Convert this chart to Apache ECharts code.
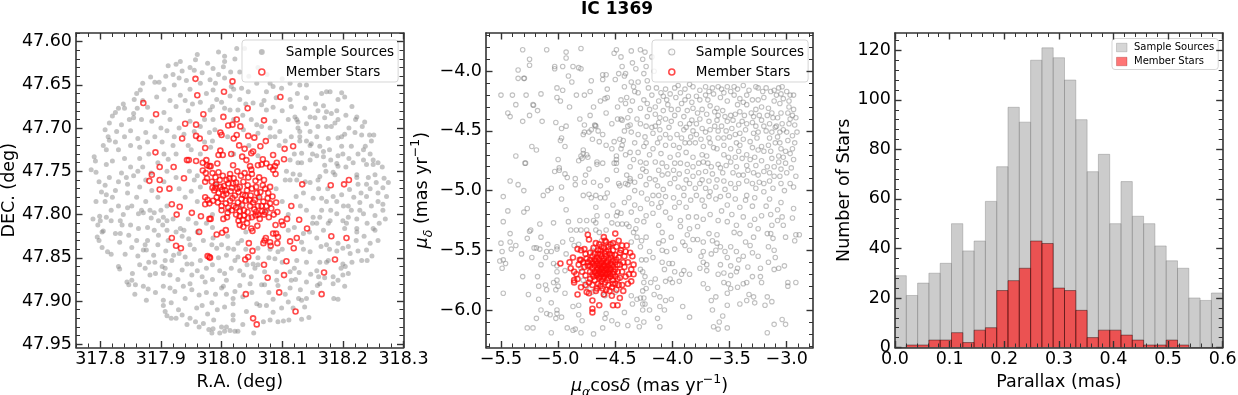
<!DOCTYPE html>
<html><head><meta charset="utf-8">
<style>html,body{margin:0;padding:0;background:#fff}#c{width:1238px;height:395px}</style>
<script src="https://cdn.jsdelivr.net/npm/echarts@6/dist/echarts.min.js"></script>
</head><body><div id="c"></div>
<script>
const sampleSky = [[317.96,47.615],[317.957,47.621],[317.932,47.623],[317.925,47.626],[317.912,47.628],[317.955,47.633],[317.968,47.636],[317.935,47.634],[317.92,47.638],[317.908,47.64],[317.93,47.642],[317.942,47.645],[317.89,47.647],[317.883,47.641],[317.897,47.647],[317.922,47.65],[317.905,47.655],[317.86,47.66],[317.87,47.648],[317.866,47.656],[317.856,47.667],[317.838,47.672],[317.87,47.668],[317.83,47.677],[317.84,47.677],[317.825,47.682],[317.82,47.686],[317.815,47.694],[317.808,47.702],[317.813,47.71],[317.815,47.714],[317.805,47.72],[317.81,47.725],[317.79,47.733],[317.792,47.738],[317.81,47.742],[317.785,47.748],[317.793,47.751],[317.798,47.762],[317.808,47.766],[317.793,47.785],[317.808,47.785],[317.81,47.777],[317.82,47.78],
[317.855,47.688],[317.855,47.683],[317.868,47.69],[317.885,47.692],[317.905,47.682],[317.925,47.675],[317.94,47.668],[317.952,47.672],[317.945,47.68],[317.915,47.69],[317.9,47.7],[317.875,47.705],[317.85,47.703],[317.84,47.71],[317.825,47.716],[317.83,47.725],[317.85,47.72],[317.865,47.722],[317.89,47.71],[317.91,47.703],[317.93,47.7],[317.948,47.692],[317.972,47.69],[317.965,47.698],[317.98,47.705],[317.945,47.72],[317.92,47.72],[317.905,47.73],[317.88,47.73],[317.865,47.735],[317.84,47.735],[317.82,47.738],[317.85,47.745],[317.87,47.745],[317.895,47.74],[317.925,47.73],[317.95,47.725],[317.965,47.73],[317.835,47.752],[317.855,47.755],[317.875,47.76],[317.91,47.75],[317.925,47.757],[317.947,47.75],[317.955,47.76],[317.96,47.755],[317.83,47.762],[317.845,47.765],[317.865,47.768],[317.885,47.772],[317.905,47.762],[317.93,47.77],[317.95,47.773],[317.965,47.768],[317.825,47.772],[317.845,47.775],[317.86,47.78],[317.875,47.785],[317.895,47.78],[317.91,47.79],[317.94,47.78],[317.96,47.785],[317.83,47.79],[317.845,47.792],
[317.788,47.805],[317.799,47.802],[317.81,47.803],[317.8,47.807],[317.796,47.812],[317.805,47.819],[317.803,47.82],[317.795,47.826],[317.798,47.83],[317.803,47.838],[317.812,47.843],[317.818,47.846],[317.83,47.86],[317.832,47.863],[317.818,47.807],[317.833,47.807],[317.836,47.812],[317.825,47.822],[317.833,47.822],[317.847,47.824],[317.832,47.832],[317.841,47.846],[317.86,47.83],[317.878,47.83],[317.874,47.835],[317.871,47.841],[317.865,47.858],[317.874,47.862],[317.853,47.868],[317.844,47.878],[317.847,47.881],[317.858,47.881],[317.852,47.876],[317.857,47.892],[317.871,47.883],[317.876,47.899],[317.879,47.886],[317.891,47.89],[317.891,47.868],[317.902,47.86],[317.907,47.862],[317.904,47.868],[317.888,47.847],[317.89,47.855],[317.876,47.841],[317.863,47.799],[317.871,47.798],[317.889,47.798],[317.884,47.804],[317.896,47.807],[317.904,47.803],[317.91,47.807],[317.889,47.818],[317.896,47.824],[317.903,47.812],[317.91,47.818],[317.932,47.816],[317.938,47.818],[317.946,47.828],[317.948,47.835],[317.94,47.849],[317.943,47.857],[317.935,47.864],[317.921,47.847],[317.918,47.853],[317.907,47.853],[317.951,47.87],[317.965,47.853],[317.968,47.872],[317.973,47.878],[317.904,47.883],[317.915,47.885],[317.923,47.889],[317.937,47.883],[317.948,47.88],[317.951,47.887],[317.963,47.893],[317.94,47.897],[317.904,47.899],[317.904,47.905],[317.917,47.902],[317.907,47.912],[317.929,47.91],[317.91,47.917],[317.917,47.92],[317.925,47.92],[317.935,47.916],[317.943,47.927],[317.948,47.92],[317.957,47.924],[317.963,47.93],[317.97,47.926],[317.979,47.933],[317.968,47.905],[317.977,47.915],[317.959,47.908],[317.951,47.857],
[317.984,47.937],[317.986,47.932],[317.997,47.937],[318.005,47.935],[318.014,47.934],[318.022,47.935],[318.027,47.935],[318.053,47.937],[318.0,47.93],[318.008,47.93],[318.035,47.927],[318.019,47.922],[317.987,47.922],[318.069,47.924],[318.08,47.922],[318.093,47.924],[318.111,47.922],[318.132,47.921],[318.144,47.919],[318.102,47.923],[318.074,47.905],[318.085,47.913],[318.099,47.908],[318.11,47.901],[318.118,47.908],[318.137,47.907],[318.132,47.899],[317.984,47.902],[317.993,47.91],[318.005,47.907],[318.019,47.916],[318.019,47.903],[318.041,47.912],[318.058,47.903],[318.063,47.905],[318.047,47.88],[318.066,47.881],[318.071,47.881],[318.091,47.876],[318.093,47.882],[318.113,47.885],[318.115,47.876],[318.13,47.887],[318.127,47.897],[318.14,47.897],[318.003,47.883],[318.0,47.885],[318.022,47.889],[318.019,47.897],[318.03,47.882],[318.005,47.868],[318.008,47.876],[317.997,47.865],[318.036,47.87],[318.049,47.872],[318.055,47.862],[318.06,47.858],[318.071,47.866],[318.091,47.866],[318.113,47.866],[318.128,47.867],[318.147,47.869],[318.157,47.865],[318.16,47.872],[318.158,47.882],[318.162,47.88],[318.184,47.872],[318.192,47.876],[318.184,47.88],[318.2,47.87],[318.209,47.868],[318.203,47.883],[318.185,47.897],[318.192,47.898],[318.162,47.855],[318.173,47.855],[318.176,47.853],[318.2,47.857],[318.204,47.86],[318.197,47.862],[318.231,47.853],[318.239,47.841],[318.248,47.848],[318.24,47.853],[318.146,47.843],[318.164,47.837],[318.173,47.835],[318.192,47.833],[318.2,47.839],[318.209,47.837],[318.212,47.845],[318.14,47.855],[318.124,47.853],[318.022,47.853],[318.027,47.849],[318.052,47.857],[318.008,47.847],[318.011,47.839],[317.992,47.839],[318.027,47.833],[317.986,47.827],[317.984,47.835],[318.033,47.83],[318.06,47.839],[318.088,47.851],[318.093,47.843],[318.135,47.822],[318.132,47.832],[318.157,47.827],[318.168,47.818],[318.157,47.81],[318.179,47.807],[318.176,47.81],[318.162,47.803],[318.151,47.803],[318.19,47.799],[318.2,47.807],[318.209,47.803],[318.223,47.805],[318.228,47.795],[318.234,47.799],[318.253,47.801],[318.266,47.795],[318.25,47.816],[318.253,47.818],[318.223,47.816],[318.223,47.82],[318.203,47.816],[318.206,47.81],
[318.165,47.66],[318.173,47.658],[318.179,47.658],[318.198,47.659],[318.203,47.664],[318.192,47.667],[318.168,47.674],[318.159,47.68],[318.173,47.681],[318.181,47.683],[318.146,47.687],[318.154,47.688],[318.121,47.687],[318.124,47.69],[318.126,47.693],[318.192,47.69],[318.187,47.694],[318.181,47.698],[318.173,47.698],[318.159,47.698],[318.146,47.704],[318.129,47.704],[318.126,47.7],[318.223,47.687],[318.221,47.69],[318.236,47.693],[318.232,47.698],[318.198,47.71],[318.203,47.707],[318.192,47.711],[318.176,47.712],[318.157,47.71],[318.129,47.71],[318.129,47.715],[318.146,47.72],[318.148,47.718],[318.162,47.721],[318.214,47.721],[318.198,47.721],[318.231,47.708],[318.244,47.708],[318.251,47.708],[318.247,47.715],[318.237,47.721],[318.234,47.725],[318.192,47.732],[318.168,47.727],[318.168,47.733],[318.157,47.732],[318.132,47.729],[318.217,47.74],[318.234,47.737],[318.239,47.742],[318.25,47.737],[318.25,47.742],[318.258,47.74],[318.19,47.741],[318.192,47.744],[318.17,47.743],[318.184,47.751],[318.187,47.754],[318.162,47.756],[318.159,47.76],[318.223,47.754],[318.223,47.757],[318.253,47.754],[318.242,47.757],[318.258,47.775],[318.275,47.763],[318.266,47.769],[318.255,47.763],[318.239,47.765],[318.225,47.765],[318.211,47.771],[318.198,47.777],[318.184,47.779],[318.165,47.781],[318.173,47.785],[318.151,47.781],[318.135,47.775],[318.123,47.779],[318.113,47.76],[318.124,47.76],[318.105,47.76],[318.129,47.754],[318.228,47.786],[318.209,47.79],[318.201,47.79],[318.19,47.785],[318.239,47.779],[318.272,47.779],[318.258,47.785],[318.266,47.788],[318.247,47.79],[318.146,47.763],
[317.995,47.612],[318.005,47.617],[318.005,47.623],[318.025,47.608],[318.038,47.608],[318.066,47.612],[318.022,47.62],[317.986,47.631],[318.003,47.629],[317.995,47.638],[317.981,47.644],[318.005,47.642],[318.016,47.652],[317.986,47.656],[318.033,47.654],[318.044,47.658],[318.058,47.648],[318.074,47.658],[318.085,47.652],[318.099,47.654],[318.113,47.648],[318.129,47.65],[318.14,47.65],[317.992,47.667],[318.014,47.663],[318.03,47.667],[318.052,47.671],[318.066,47.673],[318.074,47.679],[318.049,47.69],[318.085,47.676],[318.113,47.667],[318.115,47.675],[318.137,47.677],[318.11,47.69],[318.088,47.692],[318.096,47.704],[318.088,47.71],[317.986,47.69],[317.989,47.702],[318.036,47.702],[318.058,47.696],[318.066,47.698],[318.005,47.677],[318.014,47.679],[317.981,47.679],[318.027,47.679],[318.113,47.737],[318.126,47.74],[318.107,47.75],[318.118,47.753],[318.132,47.74],[318.146,47.737],
[317.99,47.765],[318.03,47.79],[318.06,47.78],[318.012,47.795],[317.985,47.8],[318.09,47.77],[318.075,47.795],[318.1,47.785],[318.11,47.8],[318.12,47.815],[317.975,47.81],[317.96,47.82],[318.0,47.835],[318.04,47.82],[318.08,47.84],
[317.948,47.63],[317.977,47.625],[317.965,47.648],[317.948,47.655],[317.932,47.662],[317.915,47.668],[317.893,47.664],[317.878,47.676],[317.861,47.677],[317.848,47.69],[317.835,47.696],[317.827,47.704],[317.862,47.712],[317.878,47.716],[317.902,47.716],[317.922,47.71],[317.938,47.707],[317.955,47.704],[317.972,47.716],[317.982,47.722],[317.912,47.736],[317.884,47.752],[317.862,47.75],[317.843,47.757],[317.815,47.757],[317.802,47.774],[317.818,47.795],[317.838,47.8],[317.852,47.79],[317.868,47.795],[317.882,47.795],[317.9,47.795],[317.92,47.805],[317.945,47.805],[317.958,47.81],[317.85,47.812],[317.863,47.816],[317.878,47.815],[317.852,47.838],[317.862,47.848],[317.88,47.855],[317.895,47.835],[317.912,47.83],[317.925,47.82],[317.935,47.825],[317.955,47.84],[317.97,47.83],[317.93,47.845],[317.908,47.842],[317.882,47.87],[317.915,47.87],[317.928,47.875],[317.96,47.865],[317.985,47.858],[317.975,47.862],[317.995,47.85],[318.016,47.862],[318.03,47.865],[318.042,47.858],[317.985,47.875],[317.975,47.89],[317.99,47.892],[318.008,47.892],[318.035,47.895],[318.05,47.89],[318.078,47.89],[318.085,47.898],[318.105,47.892],[318.122,47.875],[318.14,47.878],[318.15,47.89],[318.17,47.873],[318.178,47.84],[318.19,47.842],[318.215,47.855],[318.225,47.842],[318.222,47.83],[318.235,47.825],[318.245,47.833],[318.258,47.83],[318.24,47.81],[318.27,47.805],[318.26,47.81],[318.214,47.795],[318.18,47.795],[318.165,47.795],[318.14,47.795],[318.13,47.79],[318.15,47.81],[318.145,47.82],[318.11,47.818],[318.1,47.84],[318.135,47.84],[318.12,47.862],[318.1,47.855],[318.078,47.85],[318.04,47.84],[318.02,47.84],[318.01,47.825],[317.985,47.815],[318.06,47.85],[318.23,47.775],[318.245,47.77],[318.218,47.78],[318.175,47.77],[318.16,47.77],[318.138,47.762],[318.172,47.75],[318.205,47.745],[318.21,47.735],[318.225,47.73],[318.245,47.73],[318.265,47.745],[318.268,47.758],[318.2,47.73],[318.178,47.725],[318.18,47.737],[318.15,47.73],[318.14,47.715],[318.115,47.71],[318.105,47.715],[318.095,47.72],[318.12,47.73],[318.22,47.705],[318.21,47.7],[318.205,47.685],[318.215,47.675],[318.19,47.68],[318.17,47.688],[318.14,47.695],[318.155,47.672],[318.14,47.665],[318.125,47.66],[318.1,47.68],[318.09,47.665],[318.07,47.668],[318.04,47.672],[318.02,47.655],[318.045,47.64],[318.06,47.63],[318.075,47.638],[318.03,47.635],[318.015,47.635],[318.08,47.648],[318.1,47.643],[317.99,47.648],[317.975,47.66],[317.965,47.67],[317.985,47.675],[318.0,47.67],[318.02,47.69],[318.035,47.685],[318.08,47.7],[318.06,47.706],[318.08,47.71],[318.01,47.71],[318.045,47.72],[317.985,47.715],[318.02,47.73],[318.06,47.732]];
const memberSky = [[317.957,47.643],[317.96,47.662],[317.871,47.671],[317.892,47.684],[317.97,47.684],[317.94,47.695],[317.958,47.696],[317.935,47.712],[317.958,47.709],[317.964,47.712],[317.973,47.723],[317.891,47.728],[317.943,47.737],[317.946,47.737],[317.958,47.738],[317.975,47.737],[317.969,47.74],[317.898,47.745],[317.921,47.745],[317.976,47.743],[317.98,47.744],[317.969,47.749],[317.974,47.752],[317.885,47.754],[317.881,47.761],[317.898,47.76],[317.938,47.758],[317.976,47.758],[317.973,47.762],[317.898,47.771],[317.914,47.77],[317.973,47.78],[317.977,47.783],[317.918,47.788],[317.931,47.791],[317.973,47.788],[317.98,47.787],
[318.018,47.646],[318.004,47.658],[318.097,47.664],[318.043,47.677],[318.003,47.687],[318.07,47.691],[318.025,47.69],[318.018,47.696],[318.011,47.697],[318.031,47.698],[317.998,47.705],[318.0,47.708],[318.025,47.708],[318.02,47.712],[318.044,47.709],[318.054,47.711],[318.073,47.715],[318.064,47.721],[318.029,47.72],[318.038,47.724],[318.052,47.727],[318.049,47.729],[318.104,47.724],[318.118,47.721],[317.998,47.726],[317.995,47.731],[318.002,47.731],[318.016,47.73],[318.034,47.733],[318.041,47.737],[318.068,47.736],[318.085,47.731],[318.103,47.736],[318.074,47.741],[318.08,47.745],[318.091,47.74],[318.088,47.744],[318.066,47.742],[318.06,47.743],[318.047,47.744],[317.993,47.741],[318.019,47.743],[317.982,47.744],[318.049,47.748],[318.085,47.748],[318.089,47.753],[318.133,47.765],[318.18,47.766],[318.202,47.765],[318.21,47.76],[318.115,47.79],
[318.128,47.806],[318.108,47.805],[318.099,47.808],[318.101,47.812],[318.089,47.812],[318.059,47.813],[318.049,47.816],[318.051,47.819],[318.141,47.816],[318.085,47.822],[318.09,47.822],[318.093,47.826],[318.073,47.827],[318.071,47.83],[318.08,47.832],[318.069,47.833],[318.081,47.836],[318.045,47.833],[318.092,47.833],[318.113,47.831],[318.124,47.827],[318.119,47.839],[318.181,47.825],[318.206,47.827],[318.051,47.842],[318.044,47.849],[318.039,47.852],[318.107,47.854],[318.187,47.852],[318.07,47.858],[318.169,47.867],[318.103,47.87],[318.076,47.873],[318.04,47.892],[318.095,47.89],[318.165,47.892],[318.122,47.912],[318.052,47.92],[318.058,47.927],[318.003,47.805],[318.009,47.803],[317.992,47.823],[318.001,47.821],[318.007,47.818],[317.981,47.85],[317.982,47.805],[317.926,47.8],[317.951,47.798],[317.966,47.802],[317.98,47.805],[317.963,47.82],[317.918,47.827],[317.925,47.836],[317.933,47.839],[317.977,47.848],[317.98,47.849],
[317.985,47.752],[317.99,47.757],[317.995,47.751],[318.002,47.755],[318.008,47.76],[318.014,47.753],[318.02,47.758],[318.026,47.75],[318.032,47.755],[318.038,47.752],[318.044,47.757],[318.05,47.753],[318.056,47.761],[318.062,47.757],[318.07,47.76],[317.984,47.762],[317.991,47.765],[317.997,47.76],[318.004,47.767],[318.011,47.764],[318.017,47.769],[318.024,47.763],[318.03,47.768],[318.036,47.762],[318.043,47.766],[318.05,47.77],[318.057,47.768],[318.064,47.774],[318.072,47.77],[318.08,47.768],[317.988,47.772],[317.995,47.775],[318.001,47.771],[318.008,47.776],[318.015,47.773],[318.022,47.778],[318.028,47.774],[318.035,47.777],[318.042,47.772],[318.048,47.778],[318.055,47.783],[318.062,47.78],[318.069,47.785],[318.076,47.781],[318.084,47.779],[318.09,47.786],[317.986,47.784],[317.994,47.786],[318.0,47.782],[318.007,47.787],[318.014,47.784],[318.02,47.79],[318.027,47.786],[318.034,47.789],[318.04,47.784],[318.047,47.79],[318.054,47.794],[318.06,47.79],[318.067,47.796],[318.074,47.79],[318.082,47.793],[318.092,47.797],[318.0,47.795],[318.01,47.798],[318.017,47.795],[318.024,47.8],[318.03,47.796],[318.037,47.801],[318.043,47.797],[318.05,47.803],[318.056,47.801],[318.063,47.805],[318.07,47.8],[318.078,47.803],[318.028,47.807],[318.035,47.806],[318.042,47.81],[318.03,47.812],[318.036,47.814],
[317.99,47.769],[317.998,47.768],[318.006,47.772],[318.013,47.758],[318.019,47.764],[318.026,47.77],[318.033,47.782],[318.039,47.778],[318.046,47.783],[318.052,47.786],[318.058,47.775],[318.066,47.79],[318.072,47.797],[317.992,47.78],[318.003,47.778],[318.011,47.792],[318.018,47.781],[318.024,47.792],[318.03,47.802],[318.044,47.804],[318.057,47.797],[318.06,47.8],[318.08,47.787],[318.086,47.8],[318.037,47.795],[317.985,47.769],[318.0,47.79],[318.077,47.775],[318.068,47.766]];
const samplePM = [[-5.31,-3.82],[-5.1,-3.82],[-4.93,-3.84],[-4.8,-3.81],[-5.25,-3.9],[-5.25,-3.95],[-4.93,-3.89],[-5.35,-3.99],[-5.35,-4.06],[-5.3,-4.06],[-5.295,-4.06],[-5.03,-3.96],[-5.03,-3.98],[-4.96,-3.96],[-4.87,-3.96],[-4.82,-3.97],[-4.8,-3.98],[-4.91,-4.04],[-4.88,-4.09],[-4.71,-4.08],[-4.61,-4.03],[-4.58,-4.03],[-4.61,-4.07],[-4.49,-3.82],[-4.51,-3.85],[-4.45,-3.88],[-4.44,-3.96],[-4.47,-4.02],[-4.41,-4.02],[-4.42,-4.04],[-4.5,-4.07],
[-5.5,-4.2],[-5.4,-4.2],[-5.28,-4.2],[-5.15,-4.19],[-5.01,-4.14],[-4.96,-4.16],[-5.01,-4.22],[-4.98,-4.25],[-4.84,-4.2],[-4.77,-4.2],[-4.72,-4.17],[-4.57,-4.15],[-5.37,-4.28],[-5.22,-4.28],[-5.215,-4.285],[-4.9,-4.3],[-4.69,-4.3],[-4.63,-4.25],[-4.59,-4.23],[-4.57,-4.22],[-4.45,-4.24],[-4.4,-4.22],[-4.41,-4.27],[-5.44,-4.35],[-5.42,-4.38],[-5.25,-4.37],[-5.18,-4.33],[-4.58,-4.35],[-4.72,-4.37],[-5.31,-4.42],[-5.14,-4.42],[-5.02,-4.43],[-4.81,-4.4],[-4.77,-4.45],[-4.93,-4.46],[-4.97,-4.48],[-4.48,-4.4],[-4.45,-4.4],[-4.44,-4.41],[-4.39,-4.39],[-4.53,-4.44],[-4.39,-4.46],[-4.68,-4.45],[-4.675,-4.455],[-4.67,-4.46],[-4.71,-4.49],[-4.73,-4.51],[-4.65,-4.5],[-4.61,-4.53],[-4.77,-4.51],[-4.78,-4.53],[-4.7,-4.57],[-4.64,-4.59],[-4.58,-4.62],[-4.51,-4.59],[-4.46,-4.57],[-4.43,-4.58],[-4.45,-4.65],[-4.53,-4.65],[-4.44,-4.62],[-4.97,-4.56],[-4.98,-4.58],[-4.94,-4.63],[-5.23,-4.63],[-5.19,-4.66],[-4.78,-4.66],[-4.78,-4.69],[-4.8,-4.71],[-4.75,-4.7],[-4.79,-4.73],[-4.74,-4.72],[-5.37,-4.71],[-5.0,-4.74],[-4.82,-4.75],[-5.29,-4.77],[-5.285,-4.77],[-4.66,-4.76],[-4.66,-4.78],[-4.61,-4.77],[-4.51,-4.77],[-4.49,-4.71],[-4.49,-4.74],[-4.49,-4.77],[-4.99,-4.81],[-4.99,-4.83],[-5.03,-4.84],[-4.94,-4.86],[-4.92,-4.89],[-4.73,-4.82],[-4.76,-4.87],[-4.49,-4.83],[-4.4,-4.87],[-4.37,-4.8],[-4.85,-4.9],[-5.42,-4.92],[-5.35,-4.95],[-5.3,-5.0],[-5.06,-4.98],[-5.09,-5.0],[-4.97,-4.97],[-4.85,-4.95],[-4.77,-4.93],[-4.69,-4.93],[-4.63,-4.96],[-4.57,-4.91],[-4.47,-4.94],[-4.46,-4.96],[-4.41,-4.94],[-4.37,-4.92],[-5.48,-5.05],[-5.13,-5.04],[-4.97,-5.07],[-4.78,-5.04],[-4.73,-5.03],[-4.71,-5.06],[-4.67,-5.04],[-4.63,-5.06],[-4.59,-5.06],[-4.57,-5.02],
[-4.36,-3.83],[-4.28,-3.82],[-4.24,-3.84],[-4.02,-3.84],[-4.32,-3.98],[-4.23,-3.96],[-4.25,-4.02],[-4.16,-4.0],[-4.36,-4.09],[-4.34,-4.13],[-4.3,-4.09],[-4.33,-4.17],[-4.21,-4.14],[-4.14,-4.14],[-4.06,-4.15],[-3.98,-4.14],[-3.89,-4.15],[-3.82,-4.13],[-3.71,-4.13],[-3.65,-4.14],[-3.6,-4.13],[-3.52,-4.13],[-3.46,-4.13],[-3.38,-4.12],[-3.27,-4.13],[-3.25,-4.14],[-3.11,-4.16],[-3.07,-4.14],[-3.04,-4.13],[-3.0,-4.17],[-2.94,-4.2],[-2.97,-4.2],
[-4.25,-4.24],[-4.22,-4.27],[-4.08,-4.21],[-4.05,-4.24],[-3.93,-4.18],[-3.86,-4.21],[-3.79,-4.21],[-3.71,-4.2],[-3.64,-4.19],[-3.55,-4.18],[-3.46,-4.2],[-3.41,-4.23],[-3.35,-4.2],[-3.25,-4.24],[-3.14,-4.17],[-3.03,-4.23],[-4.01,-4.32],[-4.04,-4.28],[-4.12,-4.25],[-4.28,-4.31],[-4.2,-4.32],[-3.92,-4.27],[-3.82,-4.31],[-3.74,-4.32],[-3.67,-4.29],[-3.61,-4.31],[-3.6,-4.37],[-3.54,-4.38],[-3.49,-4.37],[-3.41,-4.34],[-3.35,-4.28],[-3.27,-4.32],[-3.22,-4.3],[-3.16,-4.31],[-3.13,-4.35],[-3.17,-4.37],[-2.94,-4.32],[-2.95,-4.37],[-2.92,-4.39],[-3.08,-4.39],[-3.29,-4.38],
[-4.11,-4.39],[-4.06,-4.4],[-4.01,-4.42],[-4.15,-4.46],[-4.23,-4.46],[-4.18,-4.47],[-4.31,-4.4],[-4.37,-4.45],[-3.93,-4.44],[-3.85,-4.44],[-3.79,-4.44],[-3.74,-4.48],[-3.63,-4.46],[-3.57,-4.46],[-3.71,-4.51],[-3.9,-4.49],[-3.96,-4.53],[-4.06,-4.53],[-4.11,-4.49],[-3.39,-4.42],[-3.35,-4.44],[-3.27,-4.46],[-3.25,-4.51],[-3.2,-4.46],[-3.04,-4.44],[-2.98,-4.44],[-2.91,-4.51],[-3.0,-4.51],[-3.06,-4.51],[-3.13,-4.51],[-3.41,-4.52],[-3.45,-4.53],[-3.6,-4.56],[-3.79,-4.53],[-3.85,-4.6],[-4.17,-4.52],[-4.36,-4.51],[-4.23,-4.6],[-4.25,-4.63],[-4.17,-4.65],[-4.06,-4.62],[-3.95,-4.7],[-3.89,-4.6],
[-3.64,-4.64],[-3.61,-4.65],[-3.49,-4.65],[-3.41,-4.62],[-3.35,-4.7],[-3.25,-4.66],[-3.22,-4.63],[-3.16,-4.62],[-3.1,-4.6],[-3.06,-4.6],[-3.14,-4.67],[-3.01,-4.67],[-3.03,-4.72],[-3.07,-4.76],[-3.01,-4.77],[-2.97,-4.69],[-3.74,-4.7],[-3.77,-4.77],[-3.73,-4.76],[-3.66,-4.8],[-3.6,-4.78],[-3.58,-4.81],[-3.49,-4.76],[-3.45,-4.72],[-3.39,-4.73],[-3.32,-4.74],[-3.17,-4.8],[-3.11,-4.8],[-4.09,-4.77],[-4.05,-4.8],[-4.28,-4.76],[-4.23,-4.77],[-4.23,-4.84],[-3.99,-4.83],[-3.93,-4.77],[-4.09,-4.87],[-4.15,-4.91],[-4.28,-4.88],[-4.37,-4.9],[-3.82,-4.88],[-3.77,-4.85],[-3.74,-4.91],[-3.61,-4.91],[-3.49,-4.94],[-3.42,-4.87],[-3.38,-4.87],[-3.29,-4.85],[-3.25,-4.87],[-3.3,-4.94],[-3.2,-4.94],[-3.11,-4.88],[-3.0,-4.85],[-2.92,-4.88],[-2.97,-4.94],[-2.94,-4.97],[-4.02,-4.94],[-4.08,-4.99],[-3.9,-4.98],[-3.85,-4.94],[-3.76,-4.94],[-3.67,-5.01],[-3.58,-5.05],[-3.51,-5.04],[-3.35,-5.04],[-3.36,-5.08],[-3.2,-5.01],[-3.68,-5.05],[-3.79,-5.04],[-3.9,-5.04],[-3.99,-5.06],[-4.12,-5.04],[-4.17,-5.04],[-4.27,-5.02],[-4.33,-5.0],[-4.23,-4.95],
[-4.18,-5.11],[-4.12,-5.14],[-4.06,-5.18],[-4.17,-5.19],[-4.23,-5.21],[-4.02,-5.23],[-3.93,-5.25],[-4.12,-5.29],[-4.25,-5.26],[-4.31,-5.25],[-4.09,-5.35],[-3.93,-5.3],[-3.85,-5.32],[-3.78,-5.3],[-3.79,-5.22],[-3.67,-5.2],[-3.57,-5.17],[-3.52,-5.26],[-3.44,-5.29],[-3.32,-5.29],[-3.22,-5.21],[-3.08,-5.25],[-3.04,-5.22],[-3.13,-5.29],[-3.03,-5.29],[-2.95,-5.23],[-2.94,-5.15],[-3.46,-5.35],[-3.41,-5.36],[-3.68,-5.36],[-3.61,-5.37],[-3.87,-5.37],[-3.82,-5.41],[-3.78,-5.41],[-3.73,-5.43],[-3.65,-5.42],[-3.61,-5.44],[-3.25,-5.32],[-3.17,-5.36],[-3.14,-5.36],[-3.12,-5.4],[-3.01,-5.39],[-2.92,-5.37],[-2.89,-5.37],[-2.93,-5.42],[-3.36,-5.43],[-3.32,-5.46],[-3.29,-5.39],[-3.16,-5.47],[-3.11,-5.5],[-3.54,-5.51],[-3.49,-5.47],[-3.44,-5.51],[-3.38,-5.55],[-3.42,-5.58],[-3.73,-5.51],[-3.66,-5.53],[-3.75,-5.55],[-3.73,-5.6],[-3.7,-5.62],[-3.76,-5.65],[-3.7,-5.67],[-3.58,-5.62],[-3.49,-5.63],[-3.43,-5.65],[-3.44,-5.68],[-3.34,-5.64],[-3.23,-5.65],[-3.16,-5.6],[-3.11,-5.66],[-3.07,-5.65],[-3.1,-5.56],[-3.02,-5.63],[-3.55,-5.69],[-3.49,-5.71],[-3.23,-5.72],[-3.22,-5.77],[-3.35,-5.77],[-3.38,-5.78],[-3.55,-5.77],[-3.51,-5.78],[-3.49,-5.82],[-3.52,-5.86],[-3.43,-5.81],[-3.73,-5.78],[-3.69,-5.82],[-2.99,-5.77],[-2.99,-5.8],[-2.92,-5.77],[-3.62,-5.89],[-3.66,-5.92],[-3.52,-5.96],[-3.41,-5.95],[-3.35,-5.92],[-3.33,-5.87],[-3.29,-5.89],[-3.28,-5.94],[-3.17,-5.89],[-3.19,-5.96],[-3.13,-5.93],[-3.65,-6.0],[-3.56,-6.05],[-3.59,-6.1],[-3.64,-6.14],[-3.6,-6.16],[-3.52,-6.15],[-3.04,-6.08],[-3.11,-6.12],[-3.01,-6.12],[-3.17,-6.19],
[-3.98,-5.49],[-4.09,-5.5],[-4.05,-5.51],[-4.2,-5.51],[-4.27,-5.58],[-4.23,-5.58],[-4.17,-5.56],[-4.09,-5.6],[-4.03,-5.61],[-4.0,-5.61],[-4.07,-5.66],[-3.98,-5.68],[-3.92,-5.7],[-3.9,-5.67],[-3.85,-5.7],[-4.02,-5.74],[-4.0,-5.77],[-4.06,-5.76],[-3.94,-5.76],[-4.19,-5.77],[-4.15,-5.74],[-4.25,-5.77],[-4.28,-5.66],[-4.26,-5.68],[-4.24,-5.72],[-4.13,-5.81],[-4.23,-5.82],[-4.26,-5.84],[-4.16,-5.87],[-4.11,-5.89],[-4.06,-5.92],[-4.01,-5.91],[-4.31,-5.91],[-4.25,-5.9],[-4.28,-5.9],[-4.26,-5.95],[-4.24,-5.95],[-4.11,-5.97],[-4.07,-6.0],[-3.91,-5.97],[-4.26,-6.0],[-4.2,-6.0],[-4.36,-5.88],[-4.13,-6.07],[-4.31,-6.08],[-4.25,-6.1],[-3.85,-6.06],[-4.29,-6.14],[-4.11,-6.14],[-4.34,-5.35],[-4.31,-5.39],[-4.27,-5.42],[-4.23,-5.39],[-4.36,-5.43],[-4.28,-5.47],[-4.12,-5.44],[-4.08,-5.42],[-4.01,-5.39],[-3.91,-5.43],[-3.89,-5.46],[-3.85,-5.5],
[-5.44,-5.17],[-5.3,-5.18],[-5.27,-5.15],[-4.93,-5.16],[-4.67,-5.14],[-4.66,-5.21],[-4.48,-5.18],[-4.45,-5.19],[-4.49,-5.21],[-4.57,-5.21],[-5.48,-5.26],[-5.16,-5.28],[-5.04,-5.27],[-4.91,-5.26],[-4.81,-5.25],[-4.75,-5.25],[-4.69,-5.25],[-4.67,-5.27],[-4.53,-5.27],[-4.48,-5.28],[-4.44,-5.28],[-4.4,-5.28],[-5.24,-5.33],[-5.25,-5.34],[-4.89,-5.33],[-4.84,-5.33],[-4.8,-5.33],[-4.75,-5.33],[-4.67,-5.33],[-4.64,-5.35],[-4.58,-5.33],[-5.42,-5.36],[-5.15,-5.39],[-4.88,-5.41],[-4.96,-5.43],[-5.01,-5.47],[-5.5,-5.44],[-5.42,-5.43],[-5.37,-5.46],[-5.41,-5.49],[-5.49,-5.51],[-5.27,-5.4],[-5.32,-5.53],[-5.21,-5.48],[-5.19,-5.48],[-5.16,-5.49],[-5.09,-5.45],[-5.1,-5.51],[-5.11,-5.56],[-5.01,-5.49],[-5.06,-5.51],[-4.93,-5.53],[-4.86,-5.46],[-5.23,-5.56],[-5.51,-5.59],[-5.48,-5.58],[-5.46,-5.61],[-5.49,-5.65],[-5.15,-5.62],[-5.04,-5.61],[-5.01,-5.63],[-5.01,-5.68],[-4.94,-5.67],[-5.31,-5.72],[-5.18,-5.72],[-5.17,-5.8],[-5.11,-5.79],[-5.1,-5.83],[-5.04,-5.77],[-5.01,-5.75],[-5.0,-5.8],[-5.02,-5.83],[-5.48,-5.86],[-5.26,-5.87],[-4.94,-5.86],[-5.17,-5.91],[-5.06,-5.94],[-4.87,-5.97],[-4.82,-5.96],[-5.15,-6.0],[-5.1,-6.03],[-5.07,-6.04],[-5.01,-6.0],[-5.01,-6.03],[-5.02,-6.07],[-4.97,-6.06],[-5.19,-6.07],[-5.27,-6.15],[-5.22,-6.15],[-5.06,-6.19],[-4.92,-6.15],[-4.87,-6.17],[-4.85,-6.16],[-4.8,-6.19],[-4.69,-6.2],[-4.61,-6.15],[-4.82,-6.04],[-4.79,-6.09],[-4.58,-6.03],[-4.59,-6.07],[-4.48,-6.12],[-4.39,-6.13],[-4.53,-6.09],
[-4.7,-5.85],[-4.6,-5.87],[-4.59,-5.88],[-4.75,-5.8],[-4.8,-5.65],[-4.78,-5.75],[-4.5,-5.85],[-4.55,-5.45],[-4.7,-5.5],[-4.62,-5.42],[-4.82,-5.45],
[-3.95,-4.12],[-3.85,-4.11],[-3.76,-4.16],[-3.68,-4.17],[-3.57,-4.15],[-3.49,-4.17],[-3.43,-4.15],[-3.33,-4.16],[-3.21,-4.17],[-3.18,-4.14],[-3.09,-4.2],[-3.05,-4.19],[-2.98,-4.25],[-4.18,-4.2],[-4.1,-4.18],[-4.02,-4.19],[-3.97,-4.22],[-3.89,-4.24],[-3.83,-4.26],[-3.76,-4.24],[-3.69,-4.24],[-3.58,-4.22],[-3.52,-4.25],[-3.43,-4.28],[-3.38,-4.26],[-3.3,-4.24],[-3.2,-4.22],[-3.11,-4.25],[-3.06,-4.27],[-2.98,-4.3],[-4.15,-4.3],[-4.08,-4.33],[-3.95,-4.32],[-3.87,-4.33],[-3.78,-4.35],[-3.7,-4.36],[-3.63,-4.34],[-3.56,-4.33],[-3.45,-4.36],[-3.37,-4.37],[-3.31,-4.35],[-3.24,-4.37],[-3.12,-4.39],[-3.05,-4.35],[-2.99,-4.35],[-4.22,-4.38],[-4.15,-4.36],[-3.98,-4.37],[-3.9,-4.38],[-3.83,-4.41],[-3.76,-4.4],[-3.68,-4.42],[-3.61,-4.41],[-3.52,-4.42],[-3.47,-4.41],[-3.42,-4.45],[-3.3,-4.43],[-3.22,-4.41],[-3.15,-4.44],[-3.09,-4.46],[-2.97,-4.4],[-2.93,-4.45],[-4.28,-4.44],[-4.12,-4.43],[-4.03,-4.47],[-3.88,-4.47],[-3.82,-4.5],[-3.67,-4.49],[-3.6,-4.5],[-3.53,-4.5],[-3.48,-4.48],[-3.36,-4.49],[-3.29,-4.52],[-3.18,-4.5],[-3.1,-4.47],[-3.03,-4.49],[-2.95,-4.54],[-4.3,-4.53],[-4.24,-4.55],[-4.11,-4.56],[-4.02,-4.56],[-3.92,-4.56],[-3.84,-4.55],[-3.75,-4.57],[-3.68,-4.56],[-3.55,-4.56],[-3.5,-4.55],[-3.38,-4.57],[-3.32,-4.59],[-3.26,-4.56],[-3.15,-4.56],[-3.08,-4.55],[-2.99,-4.58],[-2.93,-4.6],[-4.33,-4.6],[-4.13,-4.6],[-3.99,-4.62],[-3.94,-4.64],[-3.8,-4.6],[-3.73,-4.63],[-3.67,-4.6],[-3.55,-4.62],[-3.44,-4.6],[-3.3,-4.64],[-3.2,-4.67],[-3.05,-4.65],[-2.95,-4.65],[-4.3,-4.68],[-4.2,-4.7],[-4.1,-4.69],[-4.02,-4.72],[-3.88,-4.68],[-3.82,-4.72],[-3.7,-4.71],[-3.55,-4.7],[-3.51,-4.72],[-3.42,-4.67],[-3.28,-4.72],[-3.22,-4.75],[-3.13,-4.73],[-3.07,-4.71],[-2.94,-4.74],[-4.34,-4.74],[-4.15,-4.76],[-3.98,-4.77],[-3.87,-4.78],[-3.82,-4.8],[-3.69,-4.77],[-3.53,-4.79],[-3.44,-4.8],[-3.35,-4.79],[-3.27,-4.79],[-3.05,-4.82],[-2.96,-4.81],[-4.26,-4.82],[-4.12,-4.83],[-4.04,-4.86],[-3.94,-4.86],[-3.87,-4.84],[-3.71,-4.84],[-3.65,-4.86],[-3.56,-4.85],[-3.47,-4.85],[-3.34,-4.83],[-3.2,-4.84],[-3.15,-4.85],[-3.06,-4.88],[-4.2,-4.9],[-3.98,-4.9],[-3.88,-4.91],[-3.68,-4.92],[-3.55,-4.92],[-3.42,-4.94],[-3.35,-4.92],[-3.24,-4.93],[-3.15,-4.92],[-3.05,-4.94],[-4.13,-4.96],[-3.95,-4.97],[-3.8,-4.98],[-3.71,-4.98],[-3.62,-4.97],[-3.54,-4.99],[-3.45,-4.98],[-3.27,-4.98],[-3.12,-4.98],[-3.02,-5.0],[-4.22,-5.07],[-4.06,-5.05],[-3.94,-5.1],[-3.84,-5.08],[-3.74,-5.08],[-3.62,-5.07],[-3.45,-5.07],[-3.28,-5.06],[-3.15,-5.07],[-3.05,-5.1],[-4.1,-5.1],[-3.98,-5.14],[-3.88,-5.14],[-3.72,-5.13],[-3.52,-5.12],[-3.41,-5.14],[-3.3,-5.13],[-3.18,-5.13],[-3.08,-5.16],[-3.86,-5.22],[-3.73,-5.24],[-3.6,-5.25],[-3.48,-5.2],[-3.38,-5.22],[-3.28,-5.24],[-3.14,-5.2],[-4.38,-5.06],[-4.33,-5.12],[-4.42,-5.1],[-4.52,-5.12],[-4.36,-5.18],[-4.28,-5.15],[-4.39,-4.95],[-4.33,-4.93],[-4.41,-4.7],[-4.37,-4.68],[-4.42,-4.5],[-4.37,-4.33],[-4.48,-4.3],[-4.35,-4.25],[-4.3,-4.18],[-4.22,-4.08],[-4.42,-4.13],[-4.26,-3.9],[-4.18,-3.88],[-4.35,-3.93],[-3.62,-5.5],[-3.58,-5.47],[-3.3,-5.52],[-3.25,-5.55],[-3.52,-5.56],[-3.6,-5.7],[-3.3,-5.72],[-4.35,-5.95],[-4.42,-6.02],[-4.38,-5.3],[-4.32,-5.32]];
const memberPM = [[-4.5,-5.36],[-4.74,-5.37],[-4.73,-5.41],[-4.6,-5.39],[-4.59,-5.42],[-4.64,-5.45],[-4.52,-5.44],[-4.56,-5.47],[-4.49,-5.47],[-4.83,-5.49],[-4.8,-5.5],[-4.77,-5.49],[-4.69,-5.48],[-4.45,-5.5],[-4.41,-5.51],[-4.37,-5.52],[-4.72,-5.52],[-4.98,-5.61],[-4.87,-5.56],[-4.9,-5.6],[-4.89,-5.65],[-4.86,-5.68],[-4.84,-5.7],[-4.86,-5.75],[-4.86,-5.77],[-4.8,-5.58],[-4.81,-5.58],[-4.75,-5.57],[-4.77,-5.64],[-4.76,-5.71],[-4.8,-5.81],[-4.83,-5.87],[-4.75,-5.85],[-4.73,-5.86],[-4.7,-5.92],[-4.67,-5.84],[-4.61,-5.82],[-4.7,-5.99],[-4.7,-6.02],[-4.64,-5.96],[-4.53,-5.88],[-4.46,-5.9],[-4.52,-5.96],[-4.48,-5.96],[-4.44,-5.79],[-4.46,-5.73],[-4.41,-5.72],[-4.38,-5.7],[-4.39,-5.78],[-4.34,-5.62],[-4.35,-5.55],[-4.36,-5.66],[-4.34,-5.7],[-4.36,-5.76],[-4.39,-5.6],[-4.42,-5.55],[-4.42,-5.64],[-4.47,-5.56],[-4.46,-5.62],[-4.44,-5.68],
[-4.72,-5.58],[-4.7,-5.55],[-4.68,-5.53],[-4.65,-5.5],[-4.63,-5.53],[-4.6,-5.48],[-4.58,-5.51],[-4.55,-5.53],[-4.52,-5.5],[-4.5,-5.54],[-4.72,-5.63],[-4.7,-5.6],[-4.68,-5.58],[-4.66,-5.56],[-4.64,-5.58],[-4.62,-5.55],[-4.6,-5.57],[-4.58,-5.55],[-4.56,-5.58],[-4.54,-5.56],[-4.52,-5.59],[-4.5,-5.6],[-4.48,-5.62],[-4.72,-5.68],[-4.7,-5.65],[-4.68,-5.63],[-4.66,-5.61],[-4.64,-5.63],[-4.62,-5.6],[-4.6,-5.62],[-4.58,-5.6],[-4.56,-5.63],[-4.54,-5.61],[-4.52,-5.64],[-4.5,-5.66],[-4.48,-5.68],[-4.7,-5.7],[-4.68,-5.68],[-4.66,-5.66],[-4.64,-5.68],[-4.62,-5.65],[-4.6,-5.67],[-4.58,-5.65],[-4.56,-5.68],[-4.54,-5.66],[-4.52,-5.7],[-4.5,-5.72],[-4.48,-5.74],[-4.66,-5.71],[-4.64,-5.73],[-4.62,-5.7],[-4.6,-5.72],[-4.58,-5.7],[-4.56,-5.73],[-4.54,-5.72],[-4.52,-5.75],[-4.5,-5.78],[-4.47,-5.79],[-4.72,-5.74],[-4.68,-5.75],[-4.65,-5.78],[-4.62,-5.76],[-4.59,-5.77],[-4.56,-5.79],[-4.53,-5.81],[-4.7,-5.79],[-4.66,-5.82],[-4.63,-5.8],[-4.58,-5.83],[-4.78,-5.6],[-4.79,-5.68],[-4.82,-5.62],[-4.83,-5.74],[-4.73,-5.77],[-4.76,-5.79],[-4.49,-5.83],[-4.43,-5.84],[-4.55,-5.84],[-4.6,-5.87],[-4.58,-5.43],[-4.62,-5.47],[-4.67,-5.44],[-4.54,-5.45],[-4.47,-5.42],[-4.44,-5.46],[-4.4,-5.46],[-4.76,-5.53],
[-4.69,-5.61],[-4.67,-5.59],[-4.65,-5.53],[-4.61,-5.59],[-4.59,-5.53],[-4.57,-5.6],[-4.55,-5.65],[-4.63,-5.61],[-4.61,-5.64],[-4.59,-5.63],[-4.57,-5.66],[-4.65,-5.65],[-4.63,-5.66],[-4.61,-5.69],[-4.59,-5.69],[-4.67,-5.69],[-4.65,-5.7],[-4.57,-5.7],[-4.55,-5.7],[-4.63,-5.72],[-4.61,-5.74],[-4.53,-5.62],[-4.51,-5.68],[-4.49,-5.58],[-4.53,-5.54],[-4.46,-5.52],[-4.43,-5.6],[-4.69,-5.72],[-4.74,-5.63],[-4.74,-5.6],[-4.57,-5.75],[-4.52,-5.78],[-4.63,-5.5],[-4.56,-5.5]];
const sampleCounts = [29,21,26,30,34,50,39,43,59,73,97,91,116,121,117,108,92,71,78,50,67,53,50,41,35,32,20,19,22];
const memberCounts = [0,1,1,3,3,6,2,7,8,23,27,32,43,42,24,23,15,4,7,7,5,3,1,1,3,1,0,0,0];
const binWidth = 0.6 / sampleCounts.length;
const skyXTicks = [317.8,317.9,318.0,318.1,318.2,318.3];
const skyYTicks = [47.60,47.65,47.70,47.75,47.80,47.85,47.90,47.95];
const pmXTicks = [-5.5,-5.0,-4.5,-4.0,-3.5,-3.0];
const pmYTicks = [-4.0,-4.5,-5.0,-5.5,-6.0];
const histXTicks = [0,0.1,0.2,0.3,0.4,0.5,0.6];
const histYTicks = [0,20,40,60,80,100,120];

const FONT = 'DejaVu Sans', FS = 17.5, INK = '#333';
function minors(lo, hi, step) {
  const out = []; const s = Math.ceil(lo / step - 1e-9), e = Math.floor(hi / step + 1e-9);
  for (let i = s; i <= e; i++) out.push(+(i * step).toFixed(6));
  return out;
}
const panels = [
 {left:76,width:327.5,xr:[317.76,318.30],yr:[47.59,47.9537],inv:true,xt:skyXTicks,yt:skyYTicks,xm:0.02,ym:0.01,xd:1,yd:2,
  xn:'R.A. (deg)',yn:'DEC. (deg)',xg:22,yg:58},
 {left:486,width:327,xr:[-5.631,-2.77],yr:[-6.314,-3.68],inv:false,xt:pmXTicks,yt:pmYTicks,xm:0.1,ym:0.1,xd:1,yd:1,
  xn:'{i|μ}{s|α}{r|cos}{i|δ}{r| (mas yr}{u|−1}{r|)}',yn:'{i|μ}{s|δ}{r| (mas yr}{u|−1}{r|)}',xg:19,yg:47},
 {left:895,width:327.7,xr:[0,0.6],yr:[0,127],inv:false,xt:histXTicks,yt:histYTicks,xm:0.02,ym:4,xd:1,yd:0,
  xn:'Parallax (mas)',yn:'Number of Stars',xg:22,yg:41}
];
const rich = {i:{fontStyle:'italic',fontSize:FS,fontFamily:FONT,color:'#000',lineHeight:26},
  r:{fontSize:FS,fontFamily:FONT,color:'#000',lineHeight:26},
  s:{fontStyle:'italic',fontSize:12.5,fontFamily:FONT,color:'#000',verticalAlign:'bottom',lineHeight:17},
  u:{fontSize:12.5,fontFamily:FONT,color:'#000',verticalAlign:'top',lineHeight:12}};
const grids=[],xAxes=[],yAxes=[];
panels.forEach(p=>{
  const lab=d=>v=>Number(v).toFixed(d).replace('-','−');
  [0,1].forEach(minor=>{
    const gi=grids.length;
    grids.push({left:p.left,top:33,width:p.width,height:314.5,containLabel:false,outerBoundsMode:'none'});
    const tickVals=(t,r,m)=>minor?minors(Math.min(r[0],r[1]),Math.max(r[0],r[1]),m):t;
    const tick={show:true,inside:true,length:minor?4:6.5,lineStyle:{color:INK,width:minor?1:1.4}};
    const line={show:!minor,onZero:false,lineStyle:{color:INK,width:1.6}};
    ['bottom','top'].forEach(pos=>{
      const main=pos==='bottom'&&!minor;
      xAxes.push({type:'value',gridIndex:gi,position:pos,min:p.xr[0],max:p.xr[1],scale:true,z:6,
        axisLine:line,splitLine:{show:false},
        axisTick:Object.assign({},tick,{customValues:tickVals(p.xt,p.xr,p.xm)}),
        axisLabel:main?{show:true,customValues:p.xt,formatter:lab(p.xd),fontFamily:FONT,fontSize:FS,color:'#000',margin:3,hideOverlap:false}:{show:false},
        name:main?p.xn:'',nameLocation:'middle',nameGap:p.xg,nameTextStyle:{fontFamily:FONT,fontSize:FS,color:'#000',rich}});
    });
    ['left','right'].forEach(pos=>{
      const main=pos==='left'&&!minor;
      yAxes.push({type:'value',gridIndex:gi,position:pos,min:p.yr[0],max:p.yr[1],inverse:p.inv,scale:true,z:6,
        axisLine:line,splitLine:{show:false},
        axisTick:Object.assign({},tick,{customValues:tickVals(p.yt,p.yr,p.ym)}),
        axisLabel:main?{show:true,customValues:p.yt,formatter:lab(p.yd),fontFamily:FONT,fontSize:FS,color:'#000',margin:4,hideOverlap:false}:{show:false},
        name:main?p.yn:'',nameLocation:'middle',nameGap:p.yg,nameRotate:90,nameTextStyle:{fontFamily:FONT,fontSize:FS,color:'#000',rich}});
    });
  });
});
function bars(name,counts,fill,stroke){
  return {type:'custom',name,xAxisIndex:8,yAxisIndex:8,clip:true,z:2,
    encode:{x:[0,1],y:2},
    data:counts.map((c,i)=>[i*binWidth,(i+1)*binWidth,c]),
    renderItem:(params,api)=>{
      const a=api.coord([api.value(0),api.value(2)]),b=api.coord([api.value(1),0]);
      return {type:'rect',shape:{x:a[0],y:a[1],width:b[0]-a[0],height:b[1]-a[1]},style:{fill,stroke,lineWidth:1}};
    }};
}
const dotStyle={color:'rgba(128,128,128,.58)',borderWidth:0};
const ringRed={color:'rgba(255,0,0,0)',borderColor:'rgba(255,10,10,.92)',borderWidth:1.6};
const ringGray={color:'rgba(128,128,128,0)',borderColor:'rgba(128,128,128,.62)',borderWidth:1.1};
function legend(left,top,w,h,gap,fs,pad,textPad,data){
  return {orient:'vertical',left,top,itemWidth:w,itemHeight:h,itemGap:gap,padding:pad,selectedMode:false,
    backgroundColor:'rgba(255,255,255,.8)',borderColor:'rgba(204,204,204,.8)',borderWidth:1,borderRadius:3,
    textStyle:{fontFamily:FONT,fontSize:fs,color:'#000',padding:textPad},data};
}
const option={
  animation:false,backgroundColor:'#fff',
  title:{text:'IC 1369',left:581,top:1,padding:0,textStyle:{fontFamily:FONT,fontWeight:'bold',fontSize:17,color:'#000'}},
  grid:grids,xAxis:xAxes,yAxis:yAxes,
  legend:[
    legend(242,40,6,6,6,13.5,[5,4,3,16],[0,0,0,16],[
      {name:'Sample Sources',icon:'circle',itemStyle:dotStyle},
      {name:'Member Stars',icon:'circle',itemStyle:ringRed}]),
    legend(652,40,6,6,6,13.5,[5,4,3,16],[0,0,0,16],[
      {name:'Sample Sources',icon:'circle',itemStyle:ringGray},
      {name:'Member Stars',icon:'circle',itemStyle:ringRed}]),
    legend(1112,38.5,10.5,8.5,4,10,[4,4,3,4],[0,0,0,2],[
      {name:'Sample Sources',icon:'rect',itemStyle:{color:'rgba(128,128,128,.4)',borderColor:'rgba(128,128,128,.4)',borderWidth:1}},
      {name:'Member Stars',icon:'rect',itemStyle:{color:'rgba(255,0,0,.68)',borderColor:'rgba(120,0,0,.3)',borderWidth:1}}])
  ],
  series:[
    {type:'scatter',name:'Sample Sources',xAxisIndex:0,yAxisIndex:0,data:sampleSky,symbolSize:5,itemStyle:dotStyle,z:2},
    {type:'scatter',name:'Member Stars',xAxisIndex:0,yAxisIndex:0,data:memberSky,symbolSize:5,itemStyle:ringRed,z:3},
    {type:'scatter',name:'Sample Sources',xAxisIndex:4,yAxisIndex:4,data:samplePM,symbolSize:4.5,itemStyle:ringGray,z:2},
    {type:'scatter',name:'Member Stars',xAxisIndex:4,yAxisIndex:4,data:memberPM,symbolSize:5,itemStyle:ringRed,z:3},
    bars('Sample Sources',sampleCounts,'rgba(128,128,128,.4)','rgba(128,128,128,.4)'),
    bars('Member Stars',memberCounts,'rgba(255,0,0,.6)','rgba(40,10,10,.45)')
  ]
};
const chart=echarts.init(document.getElementById('c'),null,{renderer:'canvas'});
chart.setOption(option);
</script></body></html>
